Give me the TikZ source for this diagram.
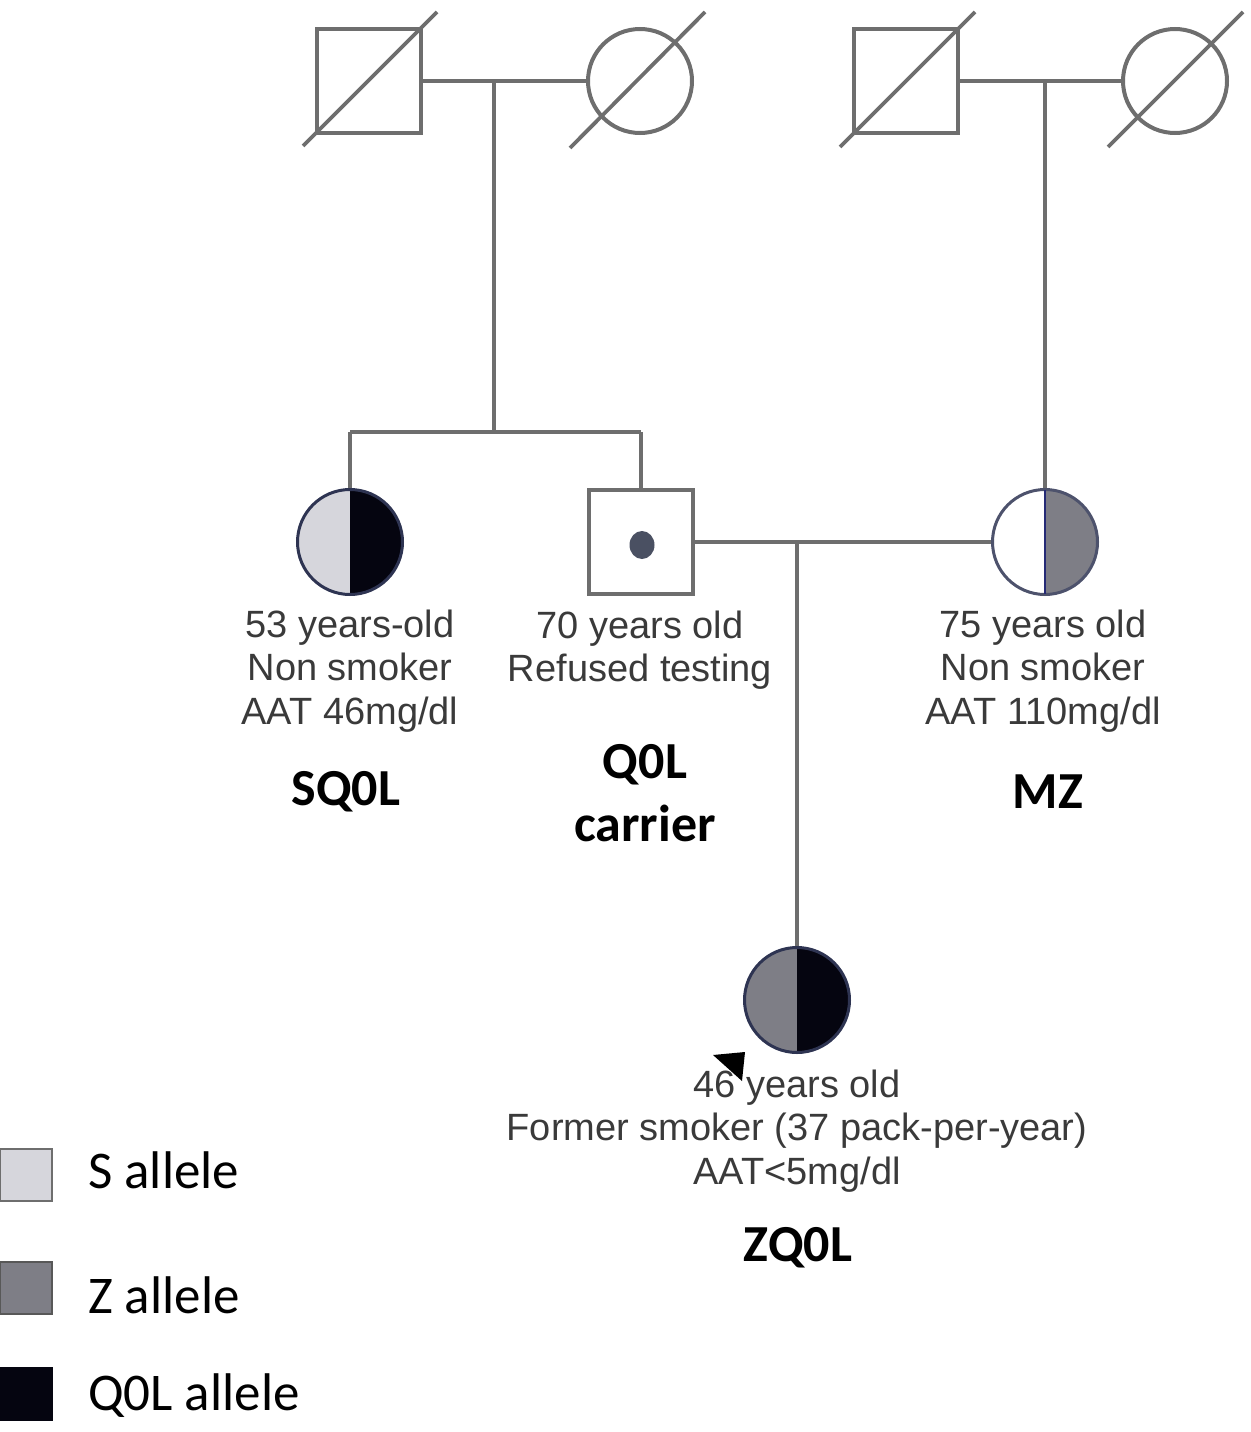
\documentclass[tikz,border=0pt]{standalone}
\usepackage{fontspec}
\setmainfont{Liberation Sans}
\newfontfamily\calib{Carlito}
\definecolor{ln}{HTML}{6E6E6E}
\definecolor{txt}{HTML}{3A3A3A}
\definecolor{sgray}{HTML}{D6D6DC}
\definecolor{zgray}{HTML}{7E7E86}
\definecolor{qblack}{HTML}{050510}
\definecolor{edge}{HTML}{2E3452}
\definecolor{dotc}{HTML}{4A5062}
\begin{document}
\begin{tikzpicture}[x=1pt,y=-1pt,
  sym/.style={draw=ln, line width=4pt, minimum size=104pt, inner sep=0pt},
  male/.style={sym, rectangle},
  female/.style={sym, circle},
  person/.style={circle, draw=edge, line width=3pt, minimum size=105pt, inner sep=0pt},
  conn/.style={draw=ln, line width=3.8pt},
  dec/.style={draw=ln, line width=3.8pt},
  info/.style={font=\fontsize{38}{43.5}\selectfont, text=txt, align=center},
  geno/.style={font=\calib\bfseries\fontsize{52}{63}\selectfont, align=center},
  leg/.style={font=\calib\fontsize{53}{60}\selectfont, anchor=west, inner sep=0pt},
  legbox/.style={line width=2pt, minimum size=52pt, inner sep=0pt}
]
\useasboundingbox (0,0) rectangle (1250,1432);

% generation I
\node[male] (gf1) at (369,81) {};
\node[female] (gm1) at (640,81) {};
\node[male] (gf2) at (906,81) {};
\node[female] (gm2) at (1175,81) {};
\draw[dec] (303,146) -- (437,12);
\draw[dec] (570,148) -- (705,12);
\draw[dec] (840,147) -- (975,12);
\draw[dec] (1108,147) -- (1243,12);

% generation II
\begin{scope}
  \clip (350,542) circle (52pt);
  \fill[sgray] (296,488) rectangle (350,596);
  \fill[qblack] (350,488) rectangle (404,596);
\end{scope}
\node[person] (sq) at (350,542) {};
\node[male] (car) at (641,542) {};
\fill[dotc] (642,545) ellipse (12.5pt and 14pt);
\begin{scope}
  \clip (1045,542) circle (52pt);
  \fill[white] (991,488) rectangle (1045,596);
  \fill[zgray] (1045,488) rectangle (1099,596);
\end{scope}
\node[person, draw=edge!85!white] (mz) at (1045,542) {};
\draw[edge!80!blue, line width=2.5pt] (1045,490) -- (1045,594);

% generation III
\begin{scope}
  \clip (797,1000) circle (52pt);
  \fill[zgray] (743,946) rectangle (797,1054);
  \fill[qblack] (797,946) rectangle (851,1054);
\end{scope}
\node[person] (zq) at (797,1000) {};
\fill[black] (713,1055) -- (745,1052) -- (742,1081) -- cycle;

% connectors
\coordinate (m1) at (494,81);
\coordinate (m2) at (1045,81);
\coordinate (sib) at (494,432);
\coordinate (sibL) at (350,432);
\coordinate (sibR) at (641,432);
\coordinate (m3) at (797,542);
\draw[conn] (gf1.east) -- (gm1.west);
\draw[conn] (gf2.east) -- (gm2.west);
\draw[conn] (m1) -- (sib);
\draw[conn] (sibL) -- (sibR);
\draw[conn] (sibL) -- (sq.north);
\draw[conn] (sibR) -- (car.north);
\draw[conn] (m2) -- (mz.north);
\draw[conn] (car.east) -- (mz.west);
\draw[conn] (m3) -- (zq.north);

% info texts
\node[info] (t1) at (350,671) {53 years-old\\Non smoker\\AAT 46mg/dl};
\node[info] (t2) at (640,650) {70 years old\\Refused testing};
\node[info] (t3) at (1043,671) {75 years old\\Non smoker\\AAT 110mg/dl};
\node[info] (t4) at (797,1131) {46 years old\\Former smoker (37 pack-per-year)\\AAT<5mg/dl};

% genotypes
\node[geno] (g1) at (346,792) {SQ0L};
\node[geno] (g2) at (645,793) {Q0L\\carrier};
\node[geno] (g3) at (1048,792) {MZ};
\node[geno] (g4) at (798,1248) {ZQ0L};

% legend
\node[legbox, fill=sgray, draw=ln] (lS) at (26,1175) {};
\node[legbox, fill=zgray, draw=ln!80!black] (lZ) at (26,1288) {};
\node[legbox, fill=qblack, draw=qblack] (lQ) at (26,1394) {};
\node[leg] at (88,1170) {S allele};
\node[leg] at (88,1295) {Z allele};
\node[leg] at (88,1396) {Q0L allele};
\end{tikzpicture}
\end{document}
